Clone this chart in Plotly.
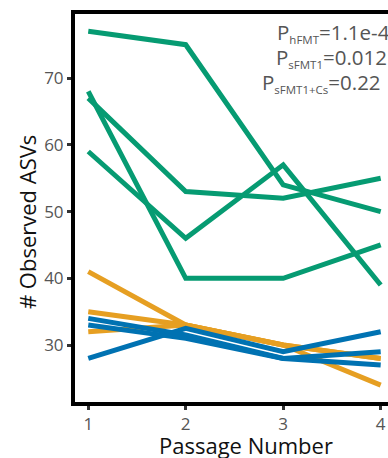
import plotly.graph_objects as go

# Passage numbers on the x axis
passages = [1, 2, 3, 4]

# Observed ASV counts per culture line, grouped by inoculum
hfmt_lines = [
    [77, 75, 54, 50],
    [68, 40, 40, 45],
    [67, 53, 52, 55],
    [59, 46, 57, 39],
]
sfmt1_lines = [
    [41, 33, 30, 24],
    [35, 33, 30, 28],
    [32, 33, 30, 28],
]
sfmt1_cs_lines = [
    [28, 32.5, 29, 32],
    [34, 31.5, 28, 29],
    [33, 31, 28, 27],
]

y_ticks = [30, 40, 50, 60, 70]
p_names = ["hFMT", "sFMT1", "sFMT1+Cs"]
p_values = ["1.1e-4", "0.012", "0.22"]

GREEN = "#069B72"
ORANGE = "#E69F22"
BLUE = "#0072B2"
FONT = "Open Sans"

fig = go.Figure()
for group, color in [(hfmt_lines, GREEN), (sfmt1_lines, ORANGE), (sfmt1_cs_lines, BLUE)]:
    for vals in group:
        fig.add_trace(go.Scatter(
            x=passages, y=vals, mode="lines",
            line=dict(color=color, width=5),
            showlegend=False, hoverinfo="skip",
        ))

fig.update_layout(
    width=388, height=458,
    margin=dict(l=75, r=0, t=14, b=56),
    paper_bgcolor="white", plot_bgcolor="white",
    font=dict(family=FONT),
)
fig.update_xaxes(
    range=[0.864, 4.075],
    tickvals=passages, ticktext=[str(p) for p in passages],
    showgrid=False, zeroline=False,
    showline=True, linecolor="black", linewidth=4, mirror=True,
    ticks="outside", ticklen=4, tickwidth=3, tickcolor="#333333",
    tickfont=dict(size=17, color="#555555", family=FONT),
)
fig.update_yaxes(
    range=[21.47, 79.6],
    tickvals=y_ticks,
    showgrid=False, zeroline=False,
    showline=True, linecolor="black", linewidth=4,
    ticks="outside", ticklen=4, tickwidth=3, tickcolor="#333333",
    tickfont=dict(size=17, color="#555555", family=FONT),
)

# Axis titles (centred on the full panel, which runs past the right edge)
fig.add_annotation(
    text="Passage Number", xref="paper", yref="paper",
    x=0.546, y=-0.111, xanchor="center", yanchor="middle", showarrow=False,
    font=dict(size=22, color="#111111", family=FONT),
)
fig.add_annotation(
    text="# Observed ASVs", xref="paper", yref="paper", textangle=-90,
    x=-0.153, y=0.464, xanchor="center", yanchor="middle", showarrow=False,
    font=dict(size=22, color="#111111", family=FONT),
)

# Kruskal-Wallis p-values per inoculum
label_y = [0.952, 0.888, 0.823]
label_x_shift = [4, 1, -5]
for name, val, yy, xs in zip(p_names, p_values, label_y, label_x_shift):
    fig.add_annotation(
        text=f"P<sub><span style='font-size:11.5px'>{name}</span></sub>={val}",
        xref="paper", yref="paper", x=1, y=yy,
        xanchor="right", yanchor="middle", xshift=xs, showarrow=False,
        font=dict(size=20.5, color="#555555", family=FONT),
    )

fig.write_html("out.html")
